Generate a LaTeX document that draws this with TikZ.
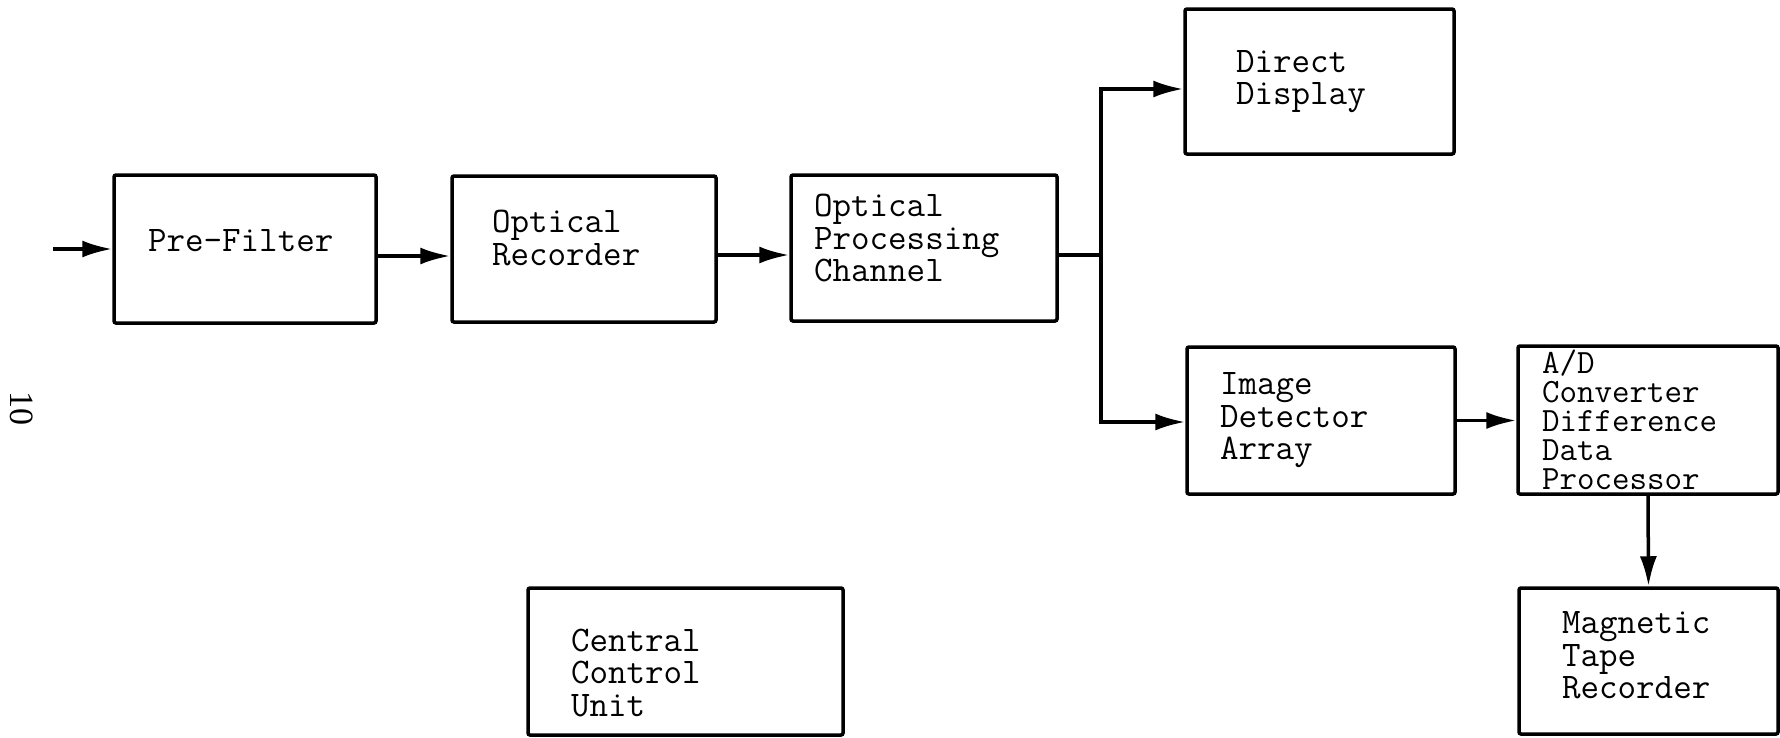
\documentclass[tikz,border=0pt]{standalone}
\usepackage{fontspec}
\newfontfamily\numfont{Liberation Serif}
\usetikzlibrary{arrows.meta}
\newcommand\txtup[1]{\rule[-#1]{0pt}{0pt}}
\newcommand\txtdown[1]{\rule{0pt}{#1}}
\begin{document}
\begin{tikzpicture}[x=1pt,y=-1pt,
  blk/.style={draw, line width=3.5pt, rounded corners=2pt, inner ysep=0pt, align=left,
    font=\ttfamily\fontsize{36}{32.5}\selectfont},
  line/.style={line width=3.5pt},
  arr/.style={line width=3.5pt, -{Latex[length=30pt,width=17pt]}}]
\useasboundingbox (0,0) rectangle (1780,737);
% boxes
\node[blk, minimum width=262pt, minimum height=148pt, inner xsep=34pt, text width=194pt] (pf) at (245,249) {Pre-Filter\txtup{18pt}};
\node[blk, minimum width=264pt, minimum height=146pt, inner xsep=40pt, text width=184pt] (or) at (584,249) {Optical\\Recorder\txtup{22pt}};
\node[blk, minimum width=266pt, minimum height=146pt, inner xsep=23pt, text width=220pt] (opc) at (924,248) {Optical\\Processing\\Channel\txtup{20pt}};
\node[blk, minimum width=269pt, minimum height=145pt, inner xsep=51pt, text width=167pt] (dd) at (1319.5,81.5) {Direct\\Display};
\node[blk, minimum width=268pt, minimum height=147pt, inner xsep=33pt, text width=202pt] (ida) at (1321,420.5) {Image\\Detector\\Array};
\node[blk, minimum width=260pt, minimum height=148pt, inner xsep=24pt, text width=212pt,
  font=\ttfamily\fontsize{34}{29}\selectfont] (ad) at (1648,420) {A/D\\Converter\\Difference\\Data\\Processor};
\node[blk, minimum width=259pt, minimum height=146pt, inner xsep=43pt, text width=173pt] (mtr) at (1648.5,661) {Magnetic\\Tape\\Recorder\txtup{12pt}};
\node[blk, minimum width=315pt, minimum height=147pt, inner xsep=43pt, text width=229pt] (ccu) at (685.5,661.5) {\txtdown{45pt}Central\\Control\\Unit};
% page number
\node[font=\numfont\fontsize{34}{34}\selectfont, rotate=-90] (pg) at (22,408) {10};
% connectors
\coordinate (in) at (53,249);
\coordinate (br) at (1101,255);
\draw[arr] (in) -- (pf.west);
\draw[arr] ([yshift=-7pt]pf.east) -- ([yshift=-7pt]or.west);
\draw[arr] ([yshift=-6pt]or.east) -- ([yshift=-6pt]or.east -| opc.west);
\draw[line] (opc.east |- br) -- (br);
\draw[arr] (br) |- ([yshift=-7.5pt]dd.west);
\draw[arr] (br) |- ([yshift=-1.5pt]ida.west);
\draw[arr] (ida.east) -- (ida.east -| ad.west);
\draw[arr] (ad.south) -- (mtr.north);
\end{tikzpicture}
\end{document}
